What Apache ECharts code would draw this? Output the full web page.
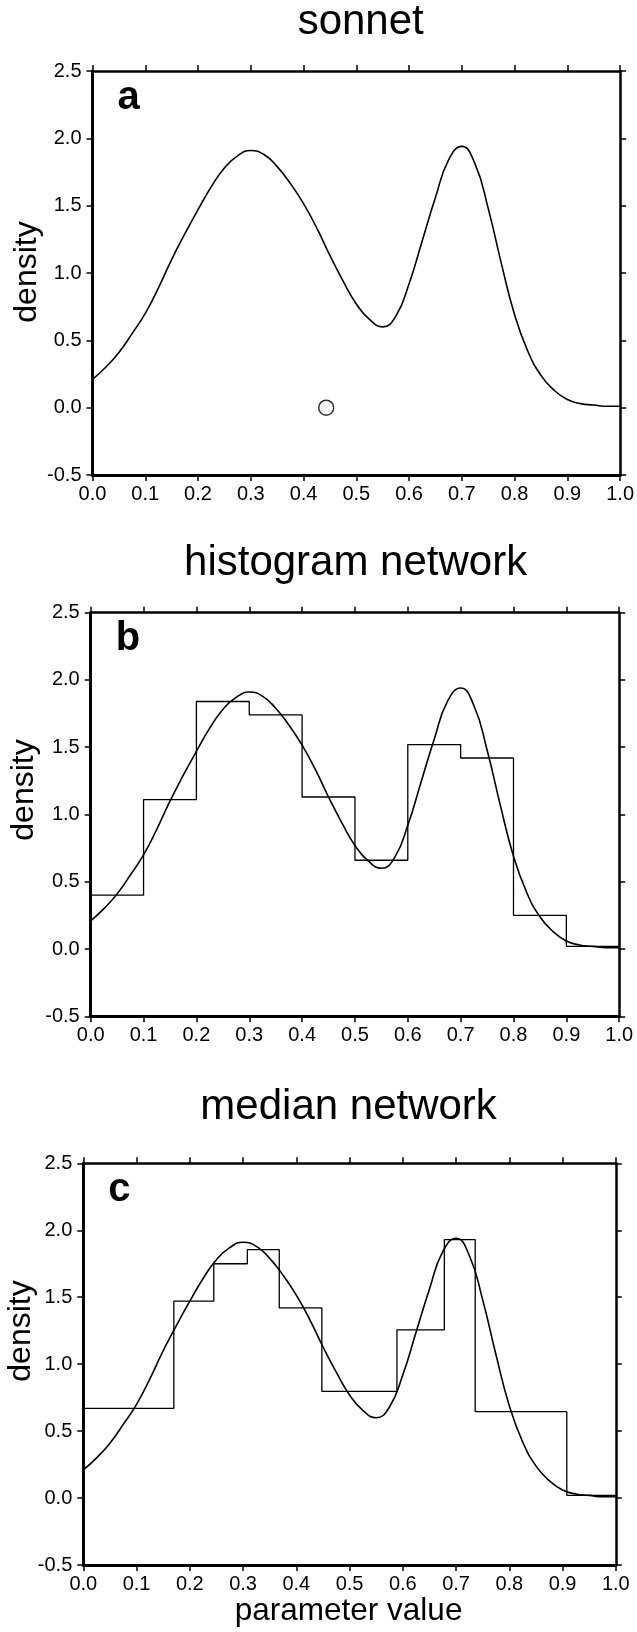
<!DOCTYPE html>
<html><head><meta charset="utf-8">
<script src="https://cdn.jsdelivr.net/npm/echarts@6/dist/echarts.min.js"></script>
<style>html,body{margin:0;padding:0;background:#fff}#c{width:637px;height:1632px}</style>
</head><body><div id="c"></div>
<script>
// ---- data ----
const xTickLabels = ['0.0','0.1','0.2','0.3','0.4','0.5','0.6','0.7','0.8','0.9','1.0'];
const yTickLabels = ['-0.5','0.0','0.5','1.0','1.5','2.0','2.5'];
const panelTitles = ['sonnet', 'histogram network', 'median network'];
const panelLetters = ['a', 'b', 'c'];
const yAxisName = 'density';
const xAxisName = 'parameter value';

// true density curve (same in all panels)
const curveX = [0.000,0.025,0.050,0.075,0.100,0.125,0.150,0.175,0.200,0.225,0.250,0.275,0.300,0.325,0.350,0.375,0.400,0.425,0.450,0.475,0.500,0.525,0.550,0.575,0.600,0.625,0.650,0.675,0.700,0.725,0.750,0.775,0.800,0.825,0.850,0.875,0.900,0.925,0.950,0.975,1.000];
const curveY = [0.21,0.30,0.41,0.55,0.70,0.89,1.10,1.29,1.47,1.64,1.78,1.87,1.91,1.88,1.79,1.665,1.515,1.335,1.13,0.94,0.77,0.655,0.60,0.68,0.92,1.24,1.56,1.84,1.94,1.81,1.48,1.07,0.69,0.42,0.24,0.13,0.06,0.03,0.02,0.01,0.01];

// sonnet output point (panel a)
const sonnetX = [0.443];
const sonnetY = [0.0];

// histogram network (panel b)
const histEdges  = [0.0,0.1,0.2,0.3,0.4,0.5,0.6,0.7,0.8,0.9,1.0];
const histValues = [0.40,1.11,1.84,1.74,1.13,0.66,1.52,1.42,0.25,0.02];

// median network (panel c)
const medianEdges  = [0.0,0.170,0.245,0.308,0.368,0.448,0.589,0.678,0.736,0.908,1.0];
const medianValues = [0.67,1.47,1.75,1.855,1.42,0.796,1.256,1.93,0.645,0.02];

// ---- layout ----
const grids = [
  {left:92.5, top:71,     width:530,   height:404},
  {left:90.7, top:612.7,  width:528.5, height:403.6},
  {left:83.3, top:1163.3, width:532.5, height:401.7}
];
const titlePos = [[360.7, 22], [355.6, 563], [348.6, 1107]];
const densityPos = [[27, 272], [24, 790], [21, 1331]];
const FONT = '"Liberation Sans", Arial, Helvetica, sans-serif';

function stepData(edges, values) {
  const d = values.map((v, k) => [edges[k], v]);
  d.push([edges[edges.length - 1], values[values.length - 1]]);
  return d;
}
const curveData = curveX.map((x, k) => [x, curveY[k]]);

const xAxes = [], yAxes = [], series = [], graphic = [];
grids.forEach((g, i) => {
  const common = {gridIndex: i, type: 'value', min: 0, max: 1, interval: 0.1, splitLine: {show: false}};
  xAxes.push(Object.assign({}, common, {
    position: 'bottom',
    axisLine: {show: true, onZero: false, lineStyle: {color: '#000', width: 3}},
    axisTick: {show: true, inside: false, length: 6, lineStyle: {color: '#000', width: 1.5}},
    axisLabel: {show: true, margin: 9, color: '#000', fontSize: 20, fontFamily: FONT,
      formatter: v => xTickLabels[Math.round(v * 10)]}
  }));
  xAxes.push(Object.assign({}, common, {
    position: 'top',
    axisLine: {show: true, onZero: false, lineStyle: {color: '#000', width: 2.5}},
    axisTick: {show: true, inside: false, length: 6, lineStyle: {color: '#000', width: 1.5}},
    axisLabel: {show: false}
  }));
  const ycommon = {gridIndex: i, type: 'value', min: -0.5, max: 2.5, interval: 0.5, splitLine: {show: false}};
  yAxes.push(Object.assign({}, ycommon, {
    position: 'left',
    axisLine: {show: true, onZero: false, lineStyle: {color: '#000', width: 3}},
    axisTick: {show: true, inside: false, length: 6, lineStyle: {color: '#000', width: 1.5}},
    axisLabel: {show: true, margin: 11, color: '#000', fontSize: 20, fontFamily: FONT,
      formatter: v => yTickLabels[Math.round((v + 0.5) * 2)]}
  }));
  yAxes.push(Object.assign({}, ycommon, {
    position: 'right',
    axisLine: {show: true, onZero: false, lineStyle: {color: '#000', width: 2.5}},
    axisTick: {show: true, inside: false, length: 6, lineStyle: {color: '#000', width: 1.5}},
    axisLabel: {show: false}
  }));
  series.push({
    type: 'line', xAxisIndex: 2 * i, yAxisIndex: 2 * i, data: curveData,
    smooth: 0.5, symbol: 'none', lineStyle: {color: '#000', width: 1.6}, silent: true, z: 3
  });
  graphic.push({type: 'text', x: titlePos[i][0], y: titlePos[i][1],
    style: {text: panelTitles[i], font: '42px ' + FONT, fill: '#000',
      align: 'center', verticalAlign: 'middle', textAlign: 'center', textVerticalAlign: 'middle'}});
  graphic.push({type: 'text', x: g.left + 25, y: g.top + 26.5,
    style: {text: panelLetters[i], font: 'bold 40px ' + FONT, fill: '#000',
      align: 'left', verticalAlign: 'middle', textAlign: 'left', textVerticalAlign: 'middle'}});
  graphic.push({type: 'text', x: densityPos[i][0], y: densityPos[i][1], rotation: Math.PI / 2,
    style: {text: yAxisName, font: '32px ' + FONT, fill: '#000',
      align: 'center', verticalAlign: 'middle', textAlign: 'center', textVerticalAlign: 'middle'}});
});

series.push({
  type: 'scatter', xAxisIndex: 0, yAxisIndex: 0,
  data: sonnetX.map((x, k) => [x, sonnetY[k]]),
  symbol: 'circle', symbolSize: 15,
  itemStyle: {color: '#fff', borderColor: '#000', borderWidth: 1.5}, silent: true, z: 4
});
series.push({
  type: 'line', xAxisIndex: 2, yAxisIndex: 2, data: stepData(histEdges, histValues),
  step: 'end', symbol: 'none', lineStyle: {color: '#000', width: 1.3}, silent: true, z: 2
});
series.push({
  type: 'line', xAxisIndex: 4, yAxisIndex: 4, data: stepData(medianEdges, medianValues),
  step: 'end', symbol: 'none', lineStyle: {color: '#000', width: 1.3}, silent: true, z: 2
});

graphic.push({type: 'text', x: 348.6, y: 1611,
  style: {text: xAxisName, font: '31.5px ' + FONT, fill: '#000',
    align: 'center', verticalAlign: 'middle', textAlign: 'center', textVerticalAlign: 'middle'}});

const chart = echarts.init(document.getElementById('c'), null, {renderer: 'canvas'});
chart.setOption({
  backgroundColor: '#fff',
  animation: false,
  grid: grids.map(g => Object.assign({containLabel: false}, g)),
  xAxis: xAxes,
  yAxis: yAxes,
  series: series,
  graphic: graphic
});
</script>
</body></html>
